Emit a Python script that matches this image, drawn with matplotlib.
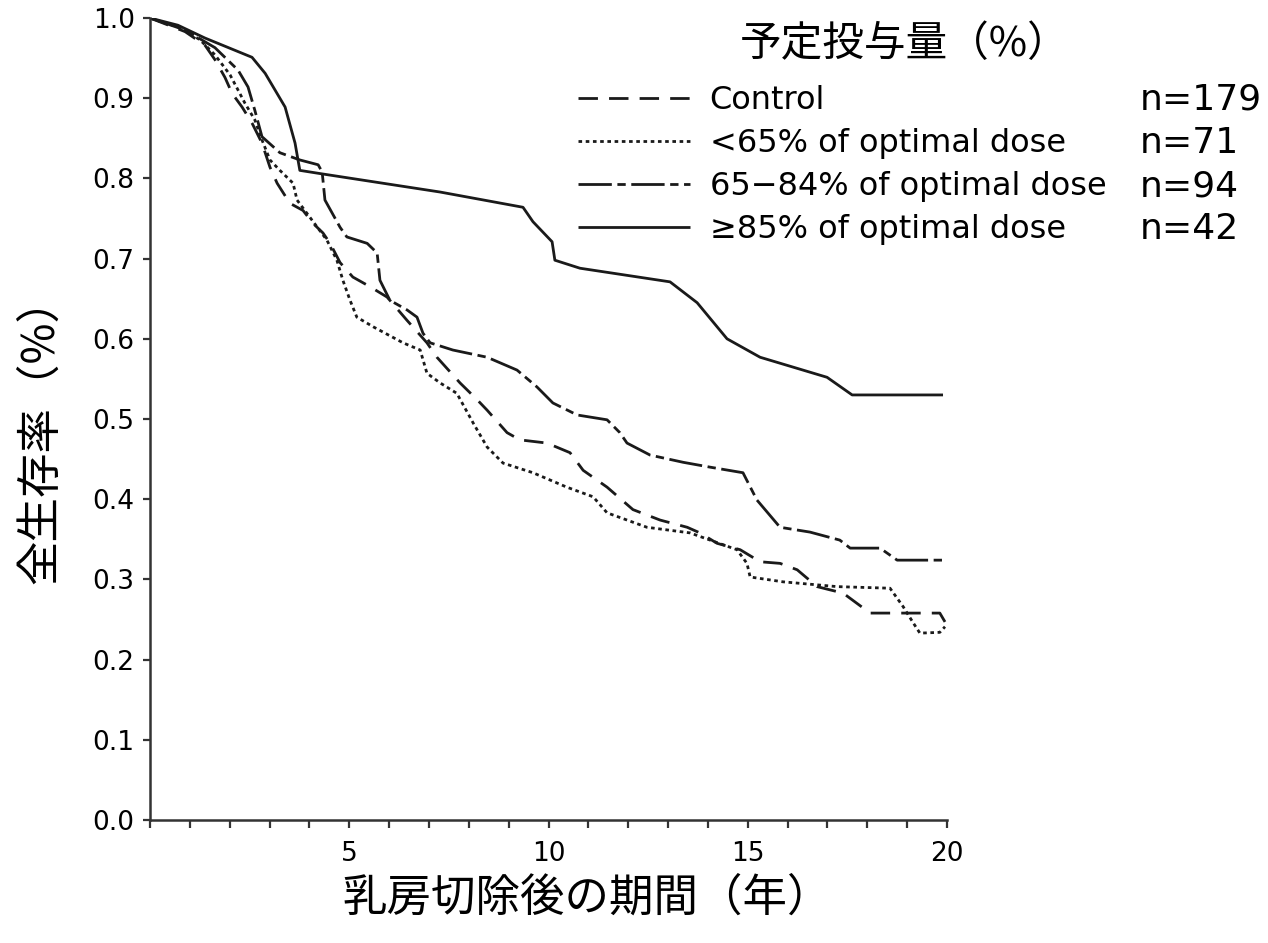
import matplotlib
matplotlib.use('Agg')
import matplotlib.pyplot as plt
from matplotlib.ticker import MultipleLocator, FixedLocator

# 予定投与量ごとの全生存率曲線
years_control = [0, 0.88, 1.38, 1.63, 1.88, 2.06, 2.31, 2.56, 2.81, 3.01, 3.19, 3.51, 3.84, 4.09,
                 4.34, 4.52, 4.77, 5.09, 5.52, 5.95, 6.45, 6.95, 7.2, 7.78, 8.21, 8.46, 8.96, 9.28,
                 9.96, 10.54, 10.87, 11.47, 12.12, 12.8, 13.48, 13.8, 14.23, 14.81, 15.31, 15.81,
                 16.24, 16.74, 17.06, 17.39, 18.07, 19.82, 19.95]
surv_control = [1.0, 0.983, 0.966, 0.948, 0.926, 0.906, 0.889, 0.869, 0.844, 0.814, 0.794, 0.769,
                0.76, 0.744, 0.732, 0.719, 0.695, 0.677, 0.665, 0.652, 0.623, 0.595, 0.577, 0.545,
                0.524, 0.511, 0.483, 0.474, 0.47, 0.458, 0.436, 0.415, 0.387, 0.374, 0.365, 0.358,
                0.345, 0.337, 0.322, 0.32, 0.312, 0.291, 0.287, 0.283, 0.258, 0.258, 0.247]

years_low = [0, 0.75, 1.25, 1.63, 2.01, 2.38, 2.63, 2.81, 3.01, 3.26, 3.59, 3.69, 4.02, 4.44, 4.69,
             4.84, 5.02, 5.19, 5.6, 6.35, 6.78, 6.95, 7.28, 7.7, 8.11, 8.46, 8.86, 9.61, 10.46,
             11.12, 11.47, 12.47, 13.55, 14.73, 14.98, 15.06, 15.88, 17.24, 18.57, 18.9, 19.15,
             19.32, 19.82, 19.95]
surv_low = [1.0, 0.988, 0.973, 0.954, 0.929, 0.894, 0.873, 0.848, 0.823, 0.81, 0.794, 0.773, 0.751,
            0.723, 0.698, 0.673, 0.648, 0.627, 0.615, 0.595, 0.586, 0.557, 0.545, 0.532, 0.495,
            0.465, 0.445, 0.433, 0.415, 0.403, 0.383, 0.365, 0.358, 0.337, 0.32, 0.303, 0.297,
            0.291, 0.289, 0.266, 0.246, 0.233, 0.234, 0.241]

years_mid = [0, 0.88, 1.63, 2.21, 2.46, 2.63, 2.81, 3.26, 3.76, 4.22, 4.32, 4.39, 4.77, 4.94, 5.45,
             5.7, 5.77, 6.02, 6.45, 6.7, 6.85, 7.03, 7.6, 8.46, 9.21, 9.71, 10.11, 10.72, 11.47,
             11.79, 11.97, 12.55, 13.38, 14.05, 14.88, 15.23, 15.81, 16.56, 17.31, 17.57, 18.32,
             18.75, 19.95]
surv_mid = [1.0, 0.985, 0.963, 0.935, 0.914, 0.885, 0.852, 0.832, 0.823, 0.817, 0.808, 0.773, 0.739,
            0.727, 0.719, 0.707, 0.673, 0.648, 0.636, 0.627, 0.607, 0.595, 0.586, 0.577, 0.561,
            0.54, 0.52, 0.505, 0.499, 0.483, 0.47, 0.455, 0.446, 0.44, 0.433, 0.399, 0.365, 0.359,
            0.349, 0.339, 0.339, 0.324, 0.324]

years_high = [0, 0.7, 1.38, 2.56, 2.89, 3.39, 3.64, 3.76, 4.27, 7.28, 9.36, 9.61, 10.09, 10.16,
              10.79, 13.05, 13.73, 14.48, 15.31, 16.99, 17.62, 19.9]
surv_high = [1.0, 0.991, 0.975, 0.951, 0.931, 0.889, 0.844, 0.81, 0.806, 0.783, 0.764, 0.746, 0.721,
             0.698, 0.688, 0.671, 0.645, 0.6, 0.577, 0.552, 0.53, 0.53]

labels = ['Control', '<65% of optimal dose', '65\u221284% of optimal dose', '\u226585% of optimal dose']
counts = ['n=179', 'n=71', 'n=94', 'n=42']
dashes = [(7, 4), (1.3, 1.3), (12, 2, 3, 2), ()]

plt.rcParams['font.family'] = ['DejaVu Sans']
jp = ['Noto Sans CJK JP', 'DejaVu Sans']
ink = '#1a1a1a'

fig = plt.figure(figsize=(12.68, 9.43), dpi=100)
ax = fig.add_axes([150 / 1268, 1 - 820 / 943, 797 / 1268, 802 / 943])

series = [(years_control, surv_control), (years_low, surv_low),
          (years_mid, surv_mid), (years_high, surv_high)]
for (xs, ys), lab, d in zip(series, labels, dashes):
    line, = ax.plot(xs, ys, color=ink, lw=2.0, label=lab, solid_capstyle='butt')
    if d:
        line.set_dashes(d)

ax.set_xlim(0, 20)
ax.set_ylim(0, 1.0)
ax.xaxis.set_major_locator(FixedLocator([5, 10, 15, 20]))
ax.xaxis.set_minor_locator(MultipleLocator(1))
ax.yaxis.set_major_locator(MultipleLocator(0.1))
ax.yaxis.set_major_formatter(plt.FuncFormatter(lambda v, p: f'{v:.1f}'))
for s in ['top', 'right']:
    ax.spines[s].set_visible(False)
for s in ['left', 'bottom']:
    ax.spines[s].set_linewidth(1.8)
    ax.spines[s].set_color('#333333')
ax.tick_params(axis='x', which='both', direction='out', length=6, width=1.6,
               color='#333333', labelsize=19, pad=9)
ax.tick_params(axis='y', direction='out', length=5, width=1.6, color='#333333',
               labelsize=19, pad=6)

leg = ax.legend(loc='upper left', bbox_to_anchor=(578 / 1268, 1 - 85 / 943),
                bbox_transform=fig.transFigure, frameon=False, fontsize=23,
                handlelength=3.5, handletextpad=0.62, labelspacing=0.38,
                borderpad=0, borderaxespad=0)

fig.text(905 / 1268, 1 - 45 / 943, '予定投与量（%）', family=jp, fontsize=30,
         ha='center', va='center')
for i, c in enumerate(counts):
    fig.text(1140 / 1268, 1 - (100 + 43 * i) / 943, c, fontsize=26, ha='left', va='center')

fig.text(587 / 1268, 1 - 898 / 943, '乳房切除後の期間（年）', family=jp, fontsize=32,
         ha='center', va='center')
fig.text(40 / 1268, 1 - 430 / 943, '全生存率（%）', family=jp, fontsize=32,
         ha='center', va='center', rotation=90)

fig.savefig('out.png', dpi=100)
